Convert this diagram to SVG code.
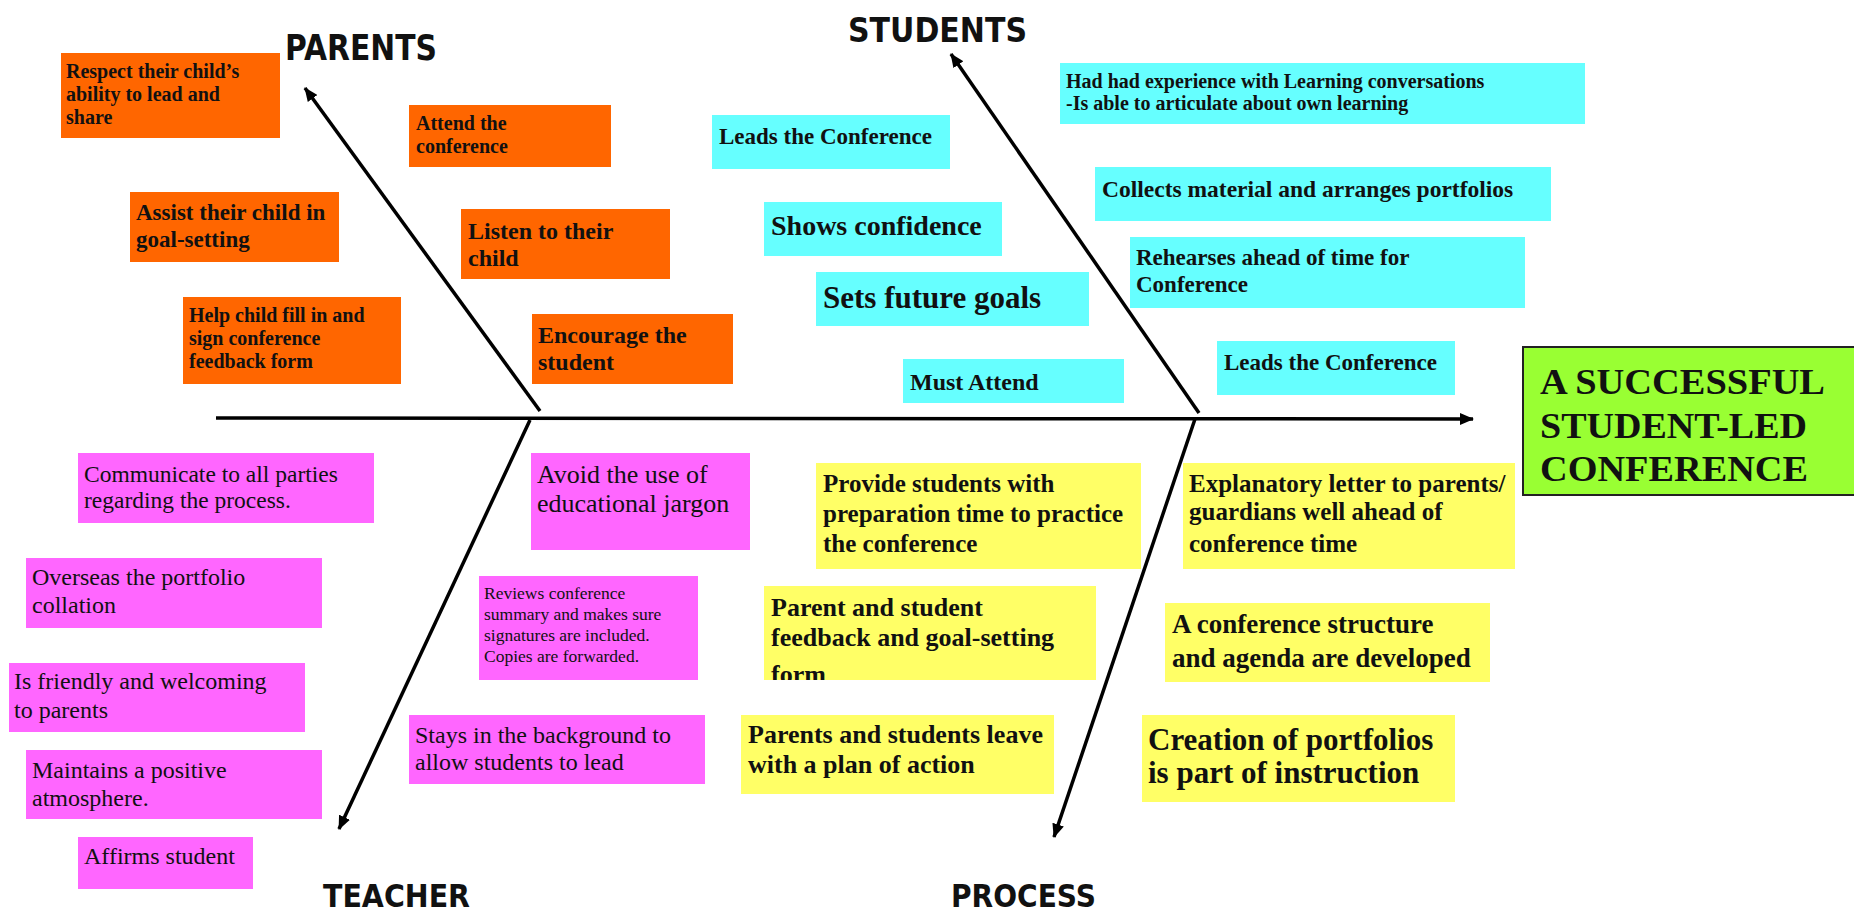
<svg xmlns="http://www.w3.org/2000/svg" width="1854" height="916" viewBox="0 0 1854 916">
<style>
.o{fill:#FF6600}
.c{fill:#66FFFF}
.m{fill:#FF66FF}
.y{fill:#FFFF66}
.t{font-family:"Liberation Serif","Times New Roman",serif;fill:#111}
.b{font-weight:bold}
.lbl{font-family:"DejaVu Sans",Verdana,sans-serif;font-weight:bold;fill:#111}
.bone{stroke:#000;stroke-width:3.5;fill:none}
</style>
<defs>
<marker id="ah" viewBox="0 0 14 12" refX="13" refY="6" markerWidth="14" markerHeight="12" markerUnits="userSpaceOnUse" orient="auto">
<path d="M0,0 L14,6 L0,12 Z" fill="#000"/>
</marker>
<clipPath id="clipY2"><rect x="764" y="586" width="332" height="94"/></clipPath>
</defs>
<rect width="1854" height="916" fill="#fff"/>

<g id="connectors">
<line class="bone" x1="216" y1="418" x2="1473" y2="419" marker-end="url(#ah)"/>
<line class="bone" x1="540" y1="411" x2="305" y2="88" marker-end="url(#ah)"/>
<line class="bone" x1="1199" y1="413" x2="951" y2="54" marker-end="url(#ah)"/>
<line class="bone" x1="530" y1="420" x2="339" y2="829" marker-end="url(#ah)"/>
<line class="bone" x1="1195" y1="419" x2="1054" y2="837" marker-end="url(#ah)"/>
</g>

<g id="label-parents"><text class="lbl" x="285" y="60" font-size="35" textLength="152" lengthAdjust="spacingAndGlyphs">PARENTS</text></g>
<g id="label-students"><text class="lbl" x="848" y="42" font-size="33" textLength="179" lengthAdjust="spacingAndGlyphs">STUDENTS</text></g>
<g id="label-teacher"><text class="lbl" x="323" y="907" font-size="32" textLength="147" lengthAdjust="spacingAndGlyphs">TEACHER</text></g>
<g id="label-process"><text class="lbl" x="951" y="907" font-size="32" textLength="145" lengthAdjust="spacingAndGlyphs">PROCESS</text></g>

<g id="effect">
<rect x="1523" y="347" width="340" height="148" fill="#99FF33" stroke="#222" stroke-width="2"/>
<text class="t b" font-size="36" x="1540"><tspan y="394" textLength="285" lengthAdjust="spacingAndGlyphs">A SUCCESSFUL</tspan><tspan x="1540" y="438" textLength="267" lengthAdjust="spacingAndGlyphs">STUDENT-LED</tspan><tspan x="1540" y="481" textLength="268" lengthAdjust="spacingAndGlyphs">CONFERENCE</tspan></text>
</g>

<g id="p1"><rect class="o" x="61" y="53" width="219" height="85"/>
<text class="t b" font-size="20" x="66"><tspan y="78">Respect their child’s</tspan><tspan x="66" y="101">ability to lead and</tspan><tspan x="66" y="124">share</tspan></text></g>
<g id="p2"><rect class="o" x="409" y="105" width="202" height="62"/>
<text class="t b" font-size="20" x="416"><tspan y="130">Attend the</tspan><tspan x="416" y="153">conference</tspan></text></g>
<g id="p3"><rect class="o" x="130" y="192" width="209" height="70"/>
<text class="t b" font-size="23" x="136"><tspan y="220">Assist their child in</tspan><tspan x="136" y="247">goal-setting</tspan></text></g>
<g id="p4"><rect class="o" x="461" y="209" width="209" height="70"/>
<text class="t b" font-size="24" x="468"><tspan y="239">Listen to their</tspan><tspan x="468" y="266">child</tspan></text></g>
<g id="p5"><rect class="o" x="183" y="297" width="218" height="87"/>
<text class="t b" font-size="20" x="189"><tspan y="322">Help child fill in and</tspan><tspan x="189" y="345">sign conference</tspan><tspan x="189" y="368">feedback form</tspan></text></g>
<g id="p6"><rect class="o" x="532" y="314" width="201" height="70"/>
<text class="t b" font-size="24" x="538"><tspan y="343">Encourage the</tspan><tspan x="538" y="370">student</tspan></text></g>

<g id="s1"><rect class="c" x="712" y="115" width="238" height="54"/>
<text class="t b" font-size="23" x="719" y="144">Leads the Conference</text></g>
<g id="s2"><rect class="c" x="764" y="202" width="238" height="54"/>
<text class="t b" font-size="28" x="771" y="235">Shows confidence</text></g>
<g id="s3"><rect class="c" x="816" y="272" width="273" height="54"/>
<text class="t b" font-size="31" x="823" y="308">Sets future goals</text></g>
<g id="s4"><rect class="c" x="903" y="359" width="221" height="44"/>
<text class="t b" font-size="24" x="910" y="390">Must Attend</text></g>
<g id="s5"><rect class="c" x="1060" y="63" width="525" height="61"/>
<text class="t b" font-size="20" x="1066"><tspan y="88">Had had experience with Learning conversations</tspan><tspan x="1066" y="110">-Is able to articulate about own learning</tspan></text></g>
<g id="s6"><rect class="c" x="1095" y="167" width="456" height="54"/>
<text class="t b" font-size="23.5" x="1102" y="197">Collects material and arranges portfolios</text></g>
<g id="s7"><rect class="c" x="1130" y="237" width="395" height="71"/>
<text class="t b" font-size="23" x="1136"><tspan y="265">Rehearses ahead of time for</tspan><tspan x="1136" y="292">Conference</tspan></text></g>
<g id="s8"><rect class="c" x="1217" y="341" width="238" height="54"/>
<text class="t b" font-size="23" x="1224" y="370">Leads the Conference</text></g>

<g id="t1"><rect class="m" x="78" y="453" width="296" height="70"/>
<text class="t" font-size="23.5" x="84"><tspan y="482">Communicate to all parties</tspan><tspan x="84" y="508">regarding the process.</tspan></text></g>
<g id="t2"><rect class="m" x="26" y="558" width="296" height="70"/>
<text class="t" font-size="24" x="32"><tspan y="585">Overseas the portfolio</tspan><tspan x="32" y="613">collation</tspan></text></g>
<g id="t3"><rect class="m" x="9" y="663" width="296" height="69"/>
<text class="t" font-size="24" x="14"><tspan y="689">Is friendly and welcoming</tspan><tspan x="14" y="718">to parents</tspan></text></g>
<g id="t4"><rect class="m" x="26" y="750" width="296" height="69"/>
<text class="t" font-size="24" x="32"><tspan y="778">Maintains a positive</tspan><tspan x="32" y="806">atmosphere.</tspan></text></g>
<g id="t5"><rect class="m" x="78" y="837" width="175" height="52"/>
<text class="t" font-size="24" x="84" y="864">Affirms student</text></g>
<g id="t6"><rect class="m" x="531" y="453" width="219" height="97"/>
<text class="t" font-size="26" x="537"><tspan y="483">Avoid the use of</tspan><tspan x="537" y="512">educational jargon</tspan></text></g>
<g id="t7"><rect class="m" x="479" y="576" width="219" height="104"/>
<text class="t" font-size="17.5" x="484"><tspan y="599">Reviews conference</tspan><tspan x="484" y="620">summary and makes sure</tspan><tspan x="484" y="641">signatures are included.</tspan><tspan x="484" y="662">Copies are forwarded.</tspan></text></g>
<g id="t8"><rect class="m" x="409" y="715" width="296" height="69"/>
<text class="t" font-size="24" x="415"><tspan y="743">Stays in the background to</tspan><tspan x="415" y="770">allow students to lead</tspan></text></g>

<g id="r1"><rect class="y" x="816" y="463" width="325" height="106"/>
<text class="t b" font-size="25" x="823"><tspan y="492">Provide students with</tspan><tspan x="823" y="522">preparation time to practice</tspan><tspan x="823" y="552">the conference</tspan></text></g>
<g id="r2"><rect class="y" x="764" y="586" width="332" height="94"/>
<text class="t b" font-size="26" x="771" clip-path="url(#clipY2)"><tspan y="616">Parent and student</tspan><tspan x="771" y="646">feedback and goal-setting</tspan><tspan x="771" y="683">form</tspan></text></g>
<g id="r3"><rect class="y" x="741" y="715" width="313" height="79"/>
<text class="t b" font-size="26" x="748"><tspan y="743">Parents and students leave</tspan><tspan x="748" y="773">with a plan of action</tspan></text></g>
<g id="r4"><rect class="y" x="1183" y="463" width="332" height="106"/>
<text class="t b" font-size="25" x="1189"><tspan y="492">Explanatory letter to parents/</tspan><tspan x="1189" y="520">guardians well ahead of</tspan><tspan x="1189" y="552">conference time</tspan></text></g>
<g id="r5"><rect class="y" x="1165" y="603" width="325" height="79"/>
<text class="t b" font-size="27" x="1172"><tspan y="633">A conference structure</tspan><tspan x="1172" y="667">and agenda are developed</tspan></text></g>
<g id="r6"><rect class="y" x="1142" y="715" width="313" height="87"/>
<text class="t b" font-size="31" x="1148"><tspan y="750">Creation of portfolios</tspan><tspan x="1148" y="783">is part of instruction</tspan></text></g>
</svg>
